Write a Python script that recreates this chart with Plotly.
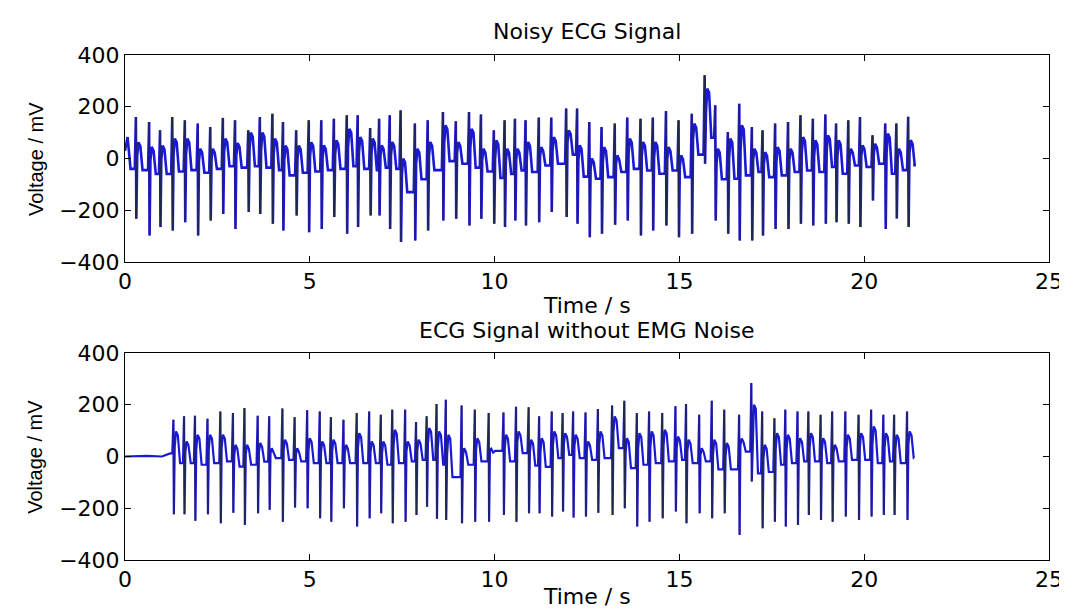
import plotly.graph_objects as go

# ---------------- data ----------------
# Top panel: "Noisy ECG Signal"
top_lead_t = [0.0, 0.07, 0.15]
top_lead_v = [30, 83, -40]
top_beat_t = [0.295, 0.653, 0.948, 1.279, 1.618, 1.967, 2.307, 2.647, 2.977, 3.335, 3.648, 3.988, 4.274, 4.632, 4.971,
              5.311, 5.651, 6.000, 6.295, 6.634, 6.876, 7.162, 7.457, 7.842, 8.190, 8.602, 8.950, 9.308, 9.630, 9.979, 10.270,
              10.550, 10.837, 11.195, 11.534, 11.937, 12.232, 12.563, 12.894, 13.250, 13.590, 13.948, 14.280, 14.637, 14.977, 15.334,
              15.683, 15.970, 16.310, 16.620, 16.960, 17.250, 17.590, 17.940, 18.276, 18.610, 18.950, 19.240, 19.570, 19.886,
              20.225, 20.570, 20.870, 21.190]
top_r_peak = [160, 141, 109, 160, 148, 135, 122, 157, 148, 109, 160, 173, 141, 109, 148,
              148, 154, 167, 167, 118, 154, 167, 186, 135, 148, 180, 144, 180, 170, 109, 148,
              154, 148, 158, 158, 193, 193, 141, 122, 135, 158, 154, 158, 184, 148, 173,
              322, 206, 102, 212, 122, 109, 135, 141, 167, 154, 170, 135, 148, 160, 90, 135, 135, 161]
top_s_trough = [-233, -297, -265, -278, -246, -297, -239, -214, -272, -207, -214, -252, -278, -220, -285,
                -272, -226, -291, -265, -220, -220, -272, -323, -317, -278, -239, -233, -259, -233, -252, -265,
                -239, -259, -246, -207, -226, -252, -304, -291, -256, -239, -297, -278, -259, -304, -291,
                -20, -239, -291, -317, -317, -297, -272, -272, -252, -259, -252, -246, -252, -265, -162, -272, -232, -265]
top_t_wave = [63, 45, 50, 77, 77, 38, 38, 77, 60, 100, 100, 77, 50, 50, 63,
              51, 70, 115, 83, 77, 51, 64, 0, 38, 64, 128, 64, 115, 38, 70, 38,
              38, 64, 44, 83, 109, 51, 0, 44, 12, 77, 64, 64, 44, 12, 135,
              270, 38, 77, 128, 38, 25, 44, 38, 83, 70, 90, 70, 38, 51, 57, 96, 38, 71]
top_baseline = [-45, -60, -60, -50, -45, -55, -40, -30, -35, -30, -35, -45, -65, -55, -50,
                -45, -40, -30, -40, -45, -35, -40, -130, -80, -45, -10, -20, -35, -50, -75, -60,
                -46, -52, -27, -20, 15, -70, -78, -72, -52, -40, -46, -59, -46, -72, 15,
                80, -80, -78, -65, -52, -72, -65, -52, -46, -52, -33, -59, -27, -33, -20, -59, -45, -30]
top_end_t, top_end_v = 21.35, -20

# Bottom panel: "ECG Signal without EMG Noise"
bot_lead_t = [0.0, 0.6, 1.0, 1.22]
bot_lead_v = [0, 2, 0, 12]
bot_beat_t = [1.310, 1.598, 1.893, 2.232, 2.580, 2.920, 3.232, 3.589, 3.902, 4.259, 4.589, 4.929, 5.268, 5.571, 5.911,
              6.268, 6.607, 6.920, 7.232, 7.580, 7.875, 8.161, 8.429, 8.679, 9.107, 9.464, 9.839, 10.240, 10.580,
              10.920, 11.205, 11.545, 11.840, 12.125, 12.460, 12.795, 13.180, 13.510, 13.848, 14.180, 14.536, 14.893,
              15.180, 15.536, 15.875, 16.214, 16.616, 16.946, 17.240, 17.571, 17.866, 18.196, 18.490, 18.820, 19.134,
              19.490, 19.848, 20.188, 20.518, 20.810, 21.160]
bot_r_peak = [142, 155, 157, 146, 174, 168, 187, 157, 155, 185, 152, 179, 174, 152, 142,
              168, 174, 161, 181, 181, 133, 155, 203, 219, 197, 181, 168, 170, 192,
              190, 155, 174, 168, 174, 170, 183, 197, 215, 168, 174, 168, 194,
              203, 161, 215, 181, 161, 284, 174, 148, 181, 174, 174, 161, 174,
              174, 161, 181, 161, 161, 174]
bot_s_trough = [-223, -223, -248, -223, -258, -217, -265, -219, -206, -252, -197, -200, -239, -252, -200,
                -271, -239, -219, -258, -252, -226, -194, -241, -245, -258, -252, -252, -226, -252,
                -219, -219, -232, -213, -236, -232, -217, -226, -200, -271, -252, -239, -213,
                -258, -219, -239, -219, -303, -97, -277, -252, -271, -265, -226, -245, -252,
                -232, -245, -232, -226, -226, -245]
bot_t_wave = [97, 58, 84, 84, 84, 45, 45, 52, 32, 65, 32, 71, 58, 65, 45,
              90, 58, 58, 103, 58, 65, 110, 97, 84, 32, 71, 30, 84, 97,
              65, 71, 97, 90, 84, 58, 97, 155, 71, 90, 97, 103, 77,
              65, 32, 65, 52, 70, 200, 45, 90, 84, 71, 90, 71, 45,
              84, 90, 116, 90, 84, 97]
bot_baseline = [-26, -26, -32, -26, -19, -39, -32, -20, -6, -13, -19, -26, -26, -26, -26,
                -26, -26, -32, -26, -19, -13, -13, -32, -80, -32, -19, 22, -19, 13,
                -35, -40, -6, 6, -6, -13, -6, 32, -45, -32, -26, -19, -13,
                -26, -19, -50, -50, 19, -65, -60, -32, -26, -19, -19, -26, -19,
                -13, -13, -26, -19, -26, -6]
bot_end_t, bot_end_v = 21.35, -6

x_ticks = [0, 5, 10, 15, 20, 25]
y_ticks = [-400, -200, 0, 200, 400]

# ---------------- build line samples from the beat values ----------------
def build(lead_t, lead_v, bt, rp, st, tw, bl, end_t, end_v):
    xs, ys = list(lead_t), list(lead_v)
    sx, sy = [], []
    prev = lead_v[-1]
    for t, r, s, w, b in zip(bt, rp, st, tw, bl):
        xs += [t - 0.03, t, t + 0.012, t + 0.035, t + 0.07, t + 0.12, t + 0.18]
        ys += [prev, r, s, (b + w) / 2, w, w - 15, b]
        sx += [t, t + 0.012, None]
        sy += [r, s, None]
        prev = b
    xs.append(end_t)
    ys.append(end_v)
    return xs, ys, sx, sy

BLUE = "#1a1ad2"
NAVY = "#24244e"
FONT = "DejaVu Sans"

fig = go.Figure()
for (lead_t, lead_v, bt, rp, st, tw, bl, et, ev, xa, ya, lw) in [
    (top_lead_t, top_lead_v, top_beat_t, top_r_peak, top_s_trough, top_t_wave, top_baseline, top_end_t, top_end_v, "x", "y", 2.6),
    (bot_lead_t, bot_lead_v, bot_beat_t, bot_r_peak, bot_s_trough, bot_t_wave, bot_baseline, bot_end_t, bot_end_v, "x2", "y2", 2.2),
]:
    xs, ys, sx, sy = build(lead_t, lead_v, bt, rp, st, tw, bl, et, ev)
    fig.add_trace(go.Scatter(x=xs, y=ys, mode="lines", line=dict(color=BLUE, width=lw),
                             xaxis=xa, yaxis=ya, showlegend=False, hoverinfo="skip"))
    fig.add_trace(go.Scatter(x=sx, y=sy, mode="lines", line=dict(color=NAVY, width=1.4),
                             xaxis=xa, yaxis=ya, showlegend=False, hoverinfo="skip",
                             connectgaps=False))

axis_common = dict(showline=True, linecolor="#000000", linewidth=1, mirror="ticks",
                   ticks="inside", ticklen=6, tickwidth=1, tickcolor="#000000",
                   showgrid=False, zeroline=False,
                   tickfont=dict(family=FONT, size=22, color="#000000"))

fig.update_layout(
    width=1067, height=608,
    margin=dict(l=117, r=18, t=47, b=56),
    paper_bgcolor="white", plot_bgcolor="white",
    xaxis=dict(domain=[0, 1], range=[0, 25], tickvals=x_ticks, anchor="y", **axis_common),
    yaxis=dict(domain=[0.59, 1], range=[-400, 400], tickvals=y_ticks, anchor="x", **axis_common),
    xaxis2=dict(domain=[0, 1], range=[0, 25], tickvals=x_ticks, anchor="y2", **axis_common),
    yaxis2=dict(domain=[0, 0.41], range=[-400, 400], tickvals=y_ticks, anchor="x2", **axis_common),
)

def ann(text, x, y, angle=0, family=FONT, size=22):
    fig.add_annotation(text=text, x=x, y=y, xref="paper", yref="paper", showarrow=False,
                       textangle=angle, xanchor="center", yanchor="middle",
                       font=dict(family=family, size=size, color="#000000"))

ann("Noisy ECG Signal", 0.5, 1.0475)
ann("Time / s", 0.5, 0.503)
ann("ECG Signal without EMG Noise", 0.5, 0.4535)
ann("Time / s", 0.5, -0.0713)
ann("Voltage / mV", -0.097, 0.795, angle=-90, family="Liberation Sans", size=20)
ann("Voltage / mV", -0.097, 0.205, angle=-90, family="Liberation Sans", size=20)

fig.write_html("out.html")
